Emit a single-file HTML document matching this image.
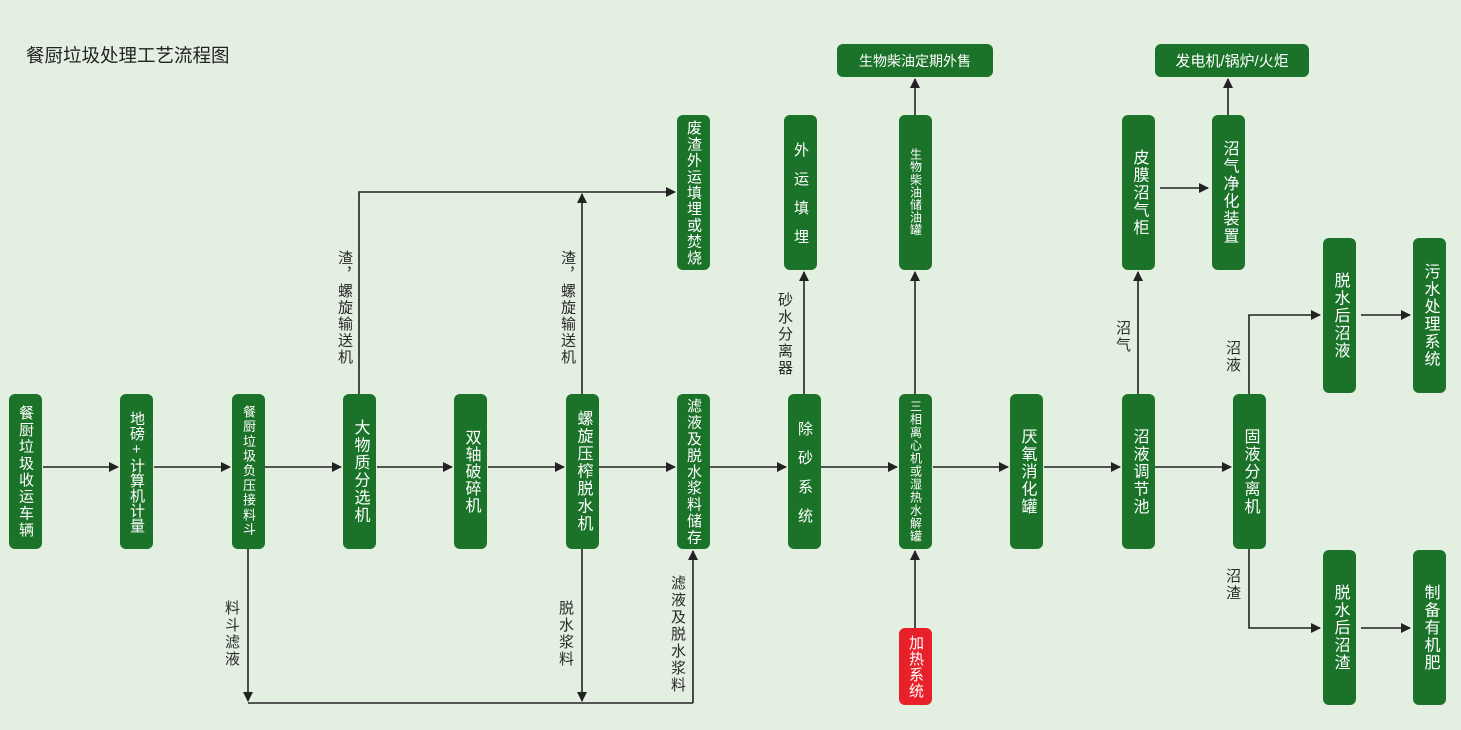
<!DOCTYPE html>
<html><head><meta charset="utf-8"><style>
body{margin:0;width:1461px;height:730px;background:#e3efe1;position:relative;overflow:hidden;font-family:"Liberation Sans","Noto Sans CJK SC",sans-serif}
.b{position:absolute;background:#1b7329;border-radius:6px;color:#fff;display:flex;align-items:center;justify-content:center}
.v{writing-mode:vertical-rl;text-orientation:upright;line-height:1;white-space:nowrap}
.l{position:absolute;color:#2a2a2a;font-size:15px;writing-mode:vertical-rl;text-orientation:upright;line-height:1}
.t{position:absolute;left:26px;top:42px;font-size:18.5px;color:#222}
svg{position:absolute;left:0;top:0}
</style></head><body>
<div class="t">餐厨垃圾处理工艺流程图</div>
<svg width="1461" height="730">
<defs><marker id="a" markerWidth="10" markerHeight="10" refX="9" refY="5" orient="auto" markerUnits="userSpaceOnUse"><path d="M0,0 L10,5 L0,10 z" fill="#222"/></marker></defs>
<g stroke="#222" stroke-width="1.6" fill="none">
<line x1="43" y1="467" x2="118" y2="467" marker-end="url(#a)"/>
<line x1="154" y1="467" x2="230" y2="467" marker-end="url(#a)"/>
<line x1="265" y1="467" x2="341" y2="467" marker-end="url(#a)"/>
<line x1="377" y1="467" x2="452" y2="467" marker-end="url(#a)"/>
<line x1="488" y1="467" x2="564" y2="467" marker-end="url(#a)"/>
<line x1="599" y1="467" x2="675" y2="467" marker-end="url(#a)"/>
<line x1="710" y1="467" x2="786" y2="467" marker-end="url(#a)"/>
<line x1="821" y1="467" x2="897" y2="467" marker-end="url(#a)"/>
<line x1="933" y1="467" x2="1008" y2="467" marker-end="url(#a)"/>
<line x1="1044" y1="467" x2="1120" y2="467" marker-end="url(#a)"/>
<line x1="1155" y1="467" x2="1231" y2="467" marker-end="url(#a)"/>
<polyline points="359,394 359,192 675,192" marker-end="url(#a)"/>
<line x1="582" y1="394" x2="582" y2="194" marker-end="url(#a)"/>
<line x1="248" y1="549" x2="248" y2="701" marker-end="url(#a)"/>
<line x1="582" y1="549" x2="582" y2="701" marker-end="url(#a)"/>
<line x1="248" y1="703" x2="693" y2="703"/>
<line x1="693" y1="703" x2="693" y2="551" marker-end="url(#a)"/>
<line x1="804" y1="394" x2="804" y2="272" marker-end="url(#a)"/>
<line x1="915" y1="394" x2="915" y2="272" marker-end="url(#a)"/>
<line x1="915" y1="115" x2="915" y2="79" marker-end="url(#a)"/>
<line x1="915" y1="628" x2="915" y2="551" marker-end="url(#a)"/>
<line x1="1138" y1="394" x2="1138" y2="272" marker-end="url(#a)"/>
<line x1="1160" y1="188" x2="1208" y2="188" marker-end="url(#a)"/>
<line x1="1228" y1="115" x2="1228" y2="79" marker-end="url(#a)"/>
<polyline points="1249,394 1249,315 1320,315" marker-end="url(#a)"/>
<polyline points="1249,549 1249,628 1320,628" marker-end="url(#a)"/>
<line x1="1361" y1="315" x2="1410" y2="315" marker-end="url(#a)"/>
<line x1="1361" y1="628" x2="1410" y2="628" marker-end="url(#a)"/>
</g></svg>
<div class="b" style="left:9px;top:394px;width:33px;height:155px"><span class="v" style="font-size:15px;letter-spacing:1.7px">餐厨垃圾收运车辆</span></div>
<div class="b" style="left:120px;top:394px;width:33px;height:155px"><span class="v" style="font-size:15px;letter-spacing:0px">地磅+计算机计量</span></div>
<div class="b" style="left:232px;top:394px;width:33px;height:155px"><span class="v" style="font-size:13px;letter-spacing:1.7px">餐厨垃圾负压接料斗</span></div>
<div class="b" style="left:343px;top:394px;width:33px;height:155px"><span class="v" style="font-size:16px;letter-spacing:1.5px">大物质分选机</span></div>
<div class="b" style="left:454px;top:394px;width:33px;height:155px"><span class="v" style="font-size:16px;letter-spacing:1px">双轴破碎机</span></div>
<div class="b" style="left:566px;top:394px;width:33px;height:155px"><span class="v" style="font-size:16px;letter-spacing:1.5px">螺旋压榨脱水机</span></div>
<div class="b" style="left:677px;top:394px;width:33px;height:155px"><span class="v" style="font-size:15px;letter-spacing:1.4px">滤液及脱水浆料储存</span></div>
<div class="b" style="left:788px;top:394px;width:33px;height:155px"><span class="v" style="font-size:15px;letter-spacing:14px;margin-bottom:-14px">除砂系统</span></div>
<div class="b" style="left:899px;top:394px;width:33px;height:155px"><span class="v" style="font-size:12px;letter-spacing:1px">三相离心机或湿热水解罐</span></div>
<div class="b" style="left:1010px;top:394px;width:33px;height:155px"><span class="v" style="font-size:16px;letter-spacing:1.5px">厌氧消化罐</span></div>
<div class="b" style="left:1122px;top:394px;width:33px;height:155px"><span class="v" style="font-size:16px;letter-spacing:1.5px">沼液调节池</span></div>
<div class="b" style="left:1233px;top:394px;width:33px;height:155px"><span class="v" style="font-size:16px;letter-spacing:1.5px">固液分离机</span></div>
<div class="b" style="left:677px;top:115px;width:33px;height:155px"><span class="v" style="font-size:15px;letter-spacing:1.2px">废渣外运填埋或焚烧</span></div>
<div class="b" style="left:784px;top:115px;width:33px;height:155px"><span class="v" style="font-size:15px;letter-spacing:14px;margin-bottom:-14px">外运填埋</span></div>
<div class="b" style="left:899px;top:115px;width:33px;height:155px"><span class="v" style="font-size:12px;letter-spacing:0.6px">生物柴油储油罐</span></div>
<div class="b" style="left:1122px;top:115px;width:33px;height:155px"><span class="v" style="font-size:16px;letter-spacing:1.5px">皮膜沼气柜</span></div>
<div class="b" style="left:1212px;top:115px;width:33px;height:155px"><span class="v" style="font-size:16px;letter-spacing:1.5px">沼气净化装置</span></div>
<div class="b" style="left:837px;top:44px;width:156px;height:33px;font-size:14px">生物柴油定期外售</div>
<div class="b" style="left:1155px;top:44px;width:154px;height:33px;font-size:15px">发电机/锅炉/火炬</div>
<div class="b" style="left:1323px;top:238px;width:33px;height:155px"><span class="v" style="font-size:16px;letter-spacing:1.5px">脱水后沼液</span></div>
<div class="b" style="left:1413px;top:238px;width:33px;height:155px"><span class="v" style="font-size:16px;letter-spacing:1.5px">污水处理系统</span></div>
<div class="b" style="left:1323px;top:550px;width:33px;height:155px"><span class="v" style="font-size:16px;letter-spacing:1.5px">脱水后沼渣</span></div>
<div class="b" style="left:1413px;top:550px;width:33px;height:155px"><span class="v" style="font-size:16px;letter-spacing:1.5px">制备有机肥</span></div>
<div class="b" style="left:899px;top:628px;width:33px;height:77px;background:#e8202a"><span class="v" style="font-size:15px;letter-spacing:1px">加热系统</span></div>
<div class="l" style="left:337px;top:250px;letter-spacing:1.5px">渣，螺旋输送机</div>
<div class="l" style="left:560px;top:250px;letter-spacing:1.5px">渣，螺旋输送机</div>
<div class="l" style="left:777px;top:292px;letter-spacing:2px">砂水分离器</div>
<div class="l" style="left:1115px;top:320px;letter-spacing:2px">沼气</div>
<div class="l" style="left:1225px;top:340px;letter-spacing:2px">沼液</div>
<div class="l" style="left:1225px;top:568px;letter-spacing:2px">沼渣</div>
<div class="l" style="left:224px;top:600px;letter-spacing:2px">料斗滤液</div>
<div class="l" style="left:558px;top:600px;letter-spacing:2px">脱水浆料</div>
<div class="l" style="left:670px;top:575px;letter-spacing:2px">滤液及脱水浆料</div>
</body></html>
